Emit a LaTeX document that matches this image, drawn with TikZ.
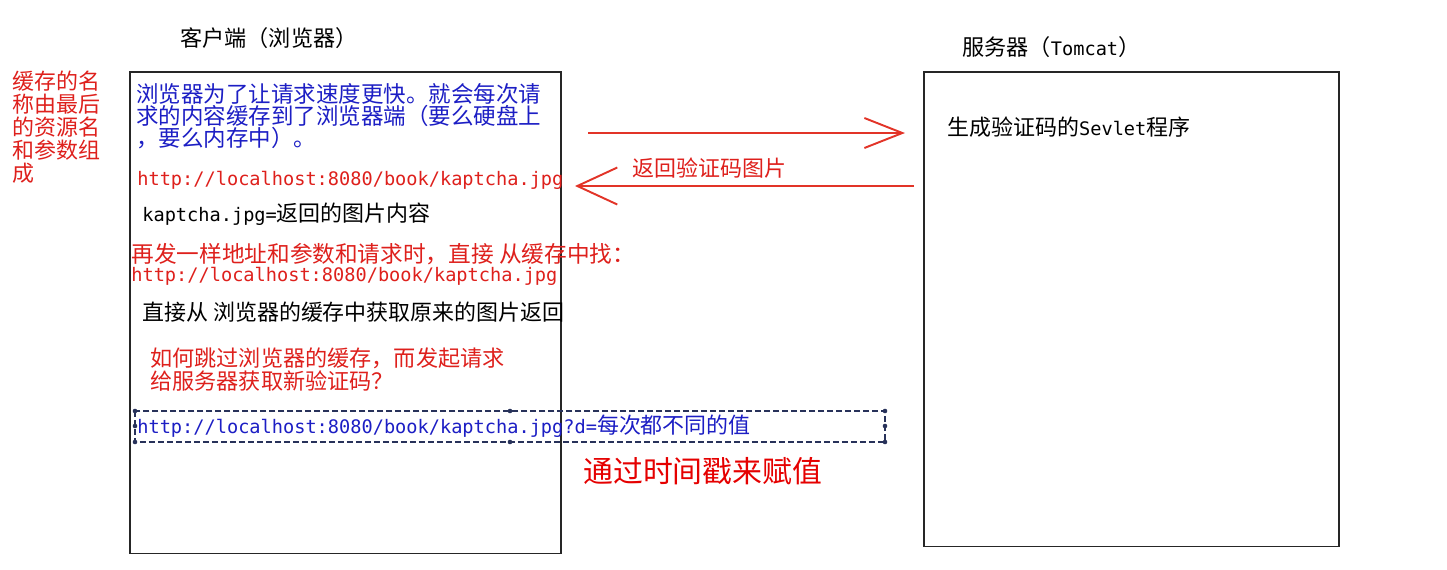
\documentclass[tikz,border=0pt]{standalone}
\usepackage{fontspec}
\usetikzlibrary{arrows.meta,positioning}
\newfontfamily\cjk{Noto Sans CJK SC}
\newfontfamily\latn{DejaVu Sans Mono}
\newcommand\half[1]{{\latn\fontsize{10.6}{12.5}\selectfont #1}}
\definecolor{notered}{RGB}{222,32,28}
\definecolor{noteblue}{RGB}{28,30,196}
\definecolor{arrowred}{RGB}{226,52,40}
\definecolor{handle}{RGB}{40,50,90}
\tikzset{
  box/.style={draw=black!85, line width=0.9pt, anchor=north west, inner sep=0pt},
  title/.style={anchor=west, inner sep=0pt, font=\cjk\fontsize{12.6}{12.6}\selectfont},
  note/.style={anchor=west, inner sep=0pt, font=\cjk\fontsize{12.5}{12.5}\selectfont},
  para/.style={anchor=north west, inner sep=0pt, align=left},
  msg/.style={draw=arrowred, line width=1.1pt},
}
\begin{document}
\begin{tikzpicture}[x=0.02cm,y=-0.02cm]
\useasboundingbox (0,0) rectangle (1447,569);
% Boxes
\node[box, minimum width=8.62cm, minimum height=9.64cm] (client) at (129,71) {};
\node[box, minimum width=8.3cm, minimum height=9.5cm] (server) at (923,71) {};
\node[title] (clienttitle) at (180,38) {客户端（浏览器）};
\node[title] (servertitle) at (962,47) {服务器（\half{Tomcat}）};
% left side note
\node[para, text=notered, font=\cjk\fontsize{12.5}{13.1}\selectfont] (cachename) at (12,71)
  {缓存的名\\称由最后\\的资源名\\和参数组\\成};
% client side texts
\node[para, text=noteblue, font=\cjk\fontsize{12.8}{12.6}\selectfont] (cachenote) at (136,83)
  {浏览器为了让请求速度更快。就会每次请\\求的内容缓存到了浏览器端（要么硬盘上\\，要么内存中）。};
\node[note, text=notered] (firsturl) at (137,180) {\half{http://localhost:8080/book/kaptcha.jpg}};
\node[note] (imgcontent) at (142,214) {\half{kaptcha.jpg=}返回的图片内容};
\node[note, text=notered, font=\cjk\fontsize{12.9}{12.9}\selectfont] (again) at (131,254) {再发一样地址和参数和请求时，直接 从缓存中找：};
\node[note, text=notered] (secondurl) at (131,276) {\half{http://localhost:8080/book/kaptcha.jpg}};
\node[note] (fromcache) at (142,312) {直接从 浏览器的缓存中获取原来的图片返回};
\node[para, text=notered, font=\cjk\fontsize{12.6}{13.6}\selectfont] (question) at (150,347)
  {如何跳过浏览器的缓存，而发起请求\\给服务器获取新验证码？};
% selected text box
\draw[handle, line width=1pt, dash pattern=on 0.12cm off 0.06cm] (135,411) rectangle (885,442);
\foreach \hx/\hy in {135/411,510/411,885/411,135/442,510/442,885/442,135/426,885/426}
  \fill[handle] (\hx,\hy) circle (1.3pt);
\node[note, text=noteblue] (newurl) at (137,426) {\half{http://localhost:8080/book/kaptcha.jpg?d=}每次都不同的值};
\node[anchor=west, inner sep=0pt, text=red!90!black, font=\cjk\fontsize{17}{17}\selectfont] (stamp) at (583,471) {通过时间戳来赋值};
% server side
\node[note] (servlet) at (947,127) {生成验证码的\half{Sevlet}程序};
% messages
\coordinate (reqstart) at (588,133);
\coordinate (reqend) at (905,133);
\coordinate (replystart) at (914,186);
\coordinate (replyend) at (575,186);
\draw[msg, -{Straight Barb[length=0.76cm,width=0.6cm]}] (reqstart) -- (reqend);
\draw[msg, -{Straight Barb[length=0.8cm,width=0.74cm]}] (replystart) -- (replyend);
\node[note, text=notered] (replylabel) at (632,168) {返回验证码图片};
\end{tikzpicture}
\end{document}
